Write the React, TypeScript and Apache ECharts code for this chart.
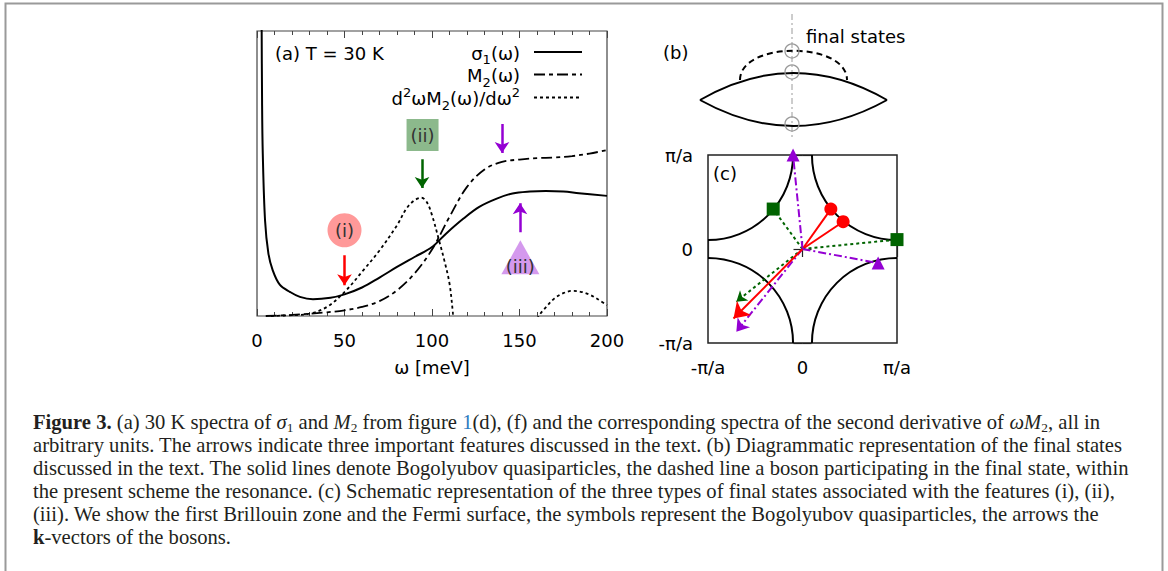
import React, { useEffect, useRef } from "react";
import * as echarts from "echarts";

// ---------- Panel (a): 30 K spectra, arbitrary units, ω in meV ----------
const omegaRange = [0, 200];
const omegaMajorStep = 50;

const sigma1Spectrum: [number, number][] = [
  [2.6, 1.1], [2.9, 0.75], [3.3, 0.57], [4.6, 0.335], [6.5, 0.22], [9, 0.16],
  [13, 0.11], [19, 0.084], [24.5, 0.067], [32, 0.059], [42, 0.064], [50, 0.076],
  [60, 0.1], [70, 0.135], [80, 0.172], [90, 0.207], [100, 0.242], [108, 0.289],
  [118, 0.342], [127, 0.383], [137, 0.412], [146, 0.43], [156, 0.437], [165, 0.439],
  [175, 0.437], [184, 0.431], [200, 0.4215],
];

const m2Spectrum: [number, number][] = [
  [5, 0.0], [20, 0.004], [40, 0.013], [50, 0.02], [60, 0.032], [70, 0.052],
  [80, 0.09], [90, 0.149], [100, 0.233], [110, 0.348], [120, 0.453], [130, 0.514],
  [140, 0.541], [150, 0.549], [160, 0.554], [170, 0.556], [180, 0.561], [190, 0.57],
  [200, 0.582],
];

// second derivative of ωM2: first lobe, then the tail after it re-enters the window
const d2wm2Lobe: [number, number][] = [
  [8, 0.0], [20, 0.003], [30, 0.008], [40, 0.032], [50, 0.084], [60.7, 0.16],
  [70, 0.23], [80, 0.318], [85.4, 0.377], [90, 0.406], [94, 0.415], [97, 0.4],
  [100, 0.354], [104, 0.266], [107, 0.196], [110, 0.114], [112, 0.008], [113, -0.05],
];
const d2wm2Tail: [number, number][] = [
  [159, -0.03], [161, 0.0], [165, 0.03], [170, 0.062], [175, 0.08], [180, 0.088],
  [185, 0.085], [190, 0.075], [195, 0.058], [200, 0.038],
];

const legendNames = ["σ{sub|1}(ω)", "M{sub|2}(ω)", "d{sup|2}ωM{sub|2}(ω)/dω{sup|2}"];
const panelATitle = "(a) T = 30 K";
const omegaAxisName = "ω [meV]";

// features (i), (ii), (iii): badge position and arrows
const featureBadges = [
  { label: "(i)", at: [50, 0.301] },
  { label: "(ii)", at: [94.6, 0.635] },
  { label: "(iii)", at: [150.5, 0.206] },
];
const featureArrowsI = [{ from: [50, 0.213], to: [50, 0.108] }];
const featureArrowsII = [{ from: [94.3, 0.55], to: [94.3, 0.449] }];
const featureArrowsIII = [
  { from: [140, 0.674], to: [140, 0.572] },
  { from: [150.3, 0.294], to: [150.3, 0.396] },
];

// ---------- Panel (c): first Brillouin zone, k in units of π/a ----------
const kTicks = [-1, 0, 1];
const kTickLabels = ["-π/a", "0", "π/a"];
const fermiArcCenters = [[1, 1], [-1, 1], [-1, -1], [1, -1]];
const fermiArcRadius = 0.9;
const finalStatesI = [[0.3, 0.425], [0.43, 0.29]];
const finalStatesII = [[-0.31, 0.425], [1.0, 0.1]];
const finalStatesIII = [[-0.1, 1.0], [0.8, -0.15]];
const bosonI = [-0.73, -0.74];
const bosonII = [-0.7, -0.56];
const bosonIII = [-0.7, -0.88];

// ---------- Caption ----------
const captionLines = [
  "{b|Figure 3.} (a) 30 K spectra of {i|σ}{sub|1} and {i|M}{sub|2} from figure {link|1}(d), (f) and the corresponding spectra of the second derivative of {i|ωM}{sub|2}, all in",
  "arbitrary units. The arrows indicate three important features discussed in the text. (b) Diagrammatic representation of the final states",
  "discussed in the text. The solid lines denote Bogolyubov quasiparticles, the dashed line a boson participating in the final state, within",
  "the present scheme the resonance. (c) Schematic representation of the three types of final states associated with the features (i), (ii),",
  "(iii). We show the first Brillouin zone and the Fermi surface, the symbols represent the Bogolyubov quasiparticles, the arrows the",
  "{b|k}-vectors of the bosons.",
];

const RED = "#ff0000";
const GREEN = "#006400";
const PURPLE = "#9400d3";
const SANS = "DejaVu Sans";
const SERIF = "Liberation Serif";

function captionScale(): number {
  const ctx = document.createElement("canvas").getContext("2d");
  if (!ctx) return 0.95;
  ctx.font = `20px "${SERIF}"`;
  const w = ctx.measureText(captionLines[1]).width;
  return w > 0 ? 1090 / w : 0.95;
}

function buildOption(): echarts.EChartsOption {
  const badgeStyles = [
    { symbol: "circle", size: 34, color: "rgba(255,0,0,0.4)", offset: [0, 0] },
    { symbol: "rect", size: 32, color: "rgba(0,100,0,0.45)", offset: [0, 0] },
    { symbol: "triangle", size: [38, 34], color: "rgba(148,0,211,0.4)", offset: [0, 9] },
  ];

  const axisTextA = { fontFamily: SANS, fontSize: 18, color: "#000" };
  const scale = captionScale();
  const captionRich = {
    b: { fontFamily: SERIF, fontSize: 20, fontWeight: "bold", fill: "#231f20", lineHeight: 23 },
    i: { fontFamily: SERIF, fontSize: 20, fontStyle: "italic", fill: "#231f20", lineHeight: 23 },
    sub: { fontFamily: SERIF, fontSize: 13, fill: "#231f20", verticalAlign: "bottom" },
    link: { fontFamily: SERIF, fontSize: 20, fill: "#2b7bbf", lineHeight: 23 },
  };
  const legendRich = {
    sub: { fontFamily: SANS, fontSize: 13, fill: "#000", verticalAlign: "bottom" },
    sup: { fontFamily: SANS, fontSize: 13, fill: "#000", verticalAlign: "top" },
  };

  const arrowLines = (
    items: { from: number[]; to: number[] }[],
    color: string,
    width: number,
    head: number,
    xAxisIndex: number,
    yAxisIndex: number,
    dash: any = "solid"
  ) => ({
    type: "lines",
    coordinateSystem: "cartesian2d",
    xAxisIndex,
    yAxisIndex,
    data: items.map((a) => ({ coords: [a.from, a.to] })),
    symbol: ["none", "arrow"],
    symbolSize: [0, head],
    lineStyle: { color, width, type: dash, opacity: 1 },
    z: 4,
  });

  const connectors = (pts: number[][], color: string, dash: any) => ({
    type: "lines",
    coordinateSystem: "cartesian2d",
    xAxisIndex: 2,
    yAxisIndex: 1,
    data: pts.map((p) => ({ coords: [[0, 0], p] })),
    symbol: "none",
    lineStyle: { color, width: 2, type: dash, opacity: 1 },
    z: 3,
  });

  const markers = (pts: number[][], symbol: string, size: number, color: string) => ({
    type: "scatter",
    xAxisIndex: 2,
    yAxisIndex: 1,
    data: pts,
    symbol,
    symbolSize: size,
    itemStyle: { color, opacity: 1 },
    clip: false,
    z: 6,
  });

  const legendY = [52, 74.5, 97.5];
  const legendDash: any[] = [null, [11, 4, 4, 4], [3, 3]];

  return {
    animation: false,
    backgroundColor: "#ffffff",
    grid: [
      { left: 257, top: 31, width: 350, height: 285, show: true, borderColor: "#444", borderWidth: 1.2, backgroundColor: "transparent" },
      { left: 708, top: 155, width: 189, height: 188, show: true, borderColor: "#222", borderWidth: 1.5, backgroundColor: "transparent" },
    ],
    xAxis: [
      {
        gridIndex: 0, type: "value", min: omegaRange[0], max: omegaRange[1], interval: omegaMajorStep,
        axisLine: { show: false },
        axisTick: { show: true, inside: true, length: 7, lineStyle: { color: "#444" } },
        minorTick: { show: true, splitNumber: 5, length: 4, lineStyle: { color: "#444" } },
        splitLine: { show: false },
        axisLabel: { ...axisTextA, margin: 15 },
        name: omegaAxisName, nameLocation: "middle", nameGap: 42,
        nameTextStyle: { ...axisTextA },
      },
      {
        gridIndex: 0, type: "value", position: "top", min: omegaRange[0], max: omegaRange[1], interval: omegaMajorStep,
        axisLine: { show: false },
        axisTick: { show: true, inside: true, length: 7, lineStyle: { color: "#444" } },
        minorTick: { show: true, splitNumber: 5, length: 4, lineStyle: { color: "#444" } },
        splitLine: { show: false },
        axisLabel: { show: false },
      },
      {
        gridIndex: 1, type: "value", min: -1, max: 1, interval: 1,
        axisLine: { show: false },
        axisTick: { show: true, inside: true, length: 8, lineStyle: { color: "#222", width: 1.2 } },
        splitLine: { show: false },
        axisLabel: {
          ...axisTextA, margin: 15,
          formatter: (v: number) => kTickLabels[kTicks.indexOf(Math.round(v))] ?? "",
        },
      },
      {
        gridIndex: 1, type: "value", position: "top", min: -1, max: 1, interval: 1,
        axisLine: { show: false },
        axisTick: { show: true, inside: true, length: 8, lineStyle: { color: "#222", width: 1.2 } },
        splitLine: { show: false },
        axisLabel: { show: false },
      },
    ],
    yAxis: [
      {
        gridIndex: 0, type: "value", min: 0, max: 1,
        axisLine: { show: false }, axisTick: { show: false }, axisLabel: { show: false }, splitLine: { show: false },
      },
      {
        gridIndex: 1, type: "value", min: -1, max: 1, interval: 1,
        axisLine: { show: false },
        axisTick: { show: true, inside: true, length: 9, lineStyle: { color: "#222", width: 1.2 } },
        splitLine: { show: false },
        axisLabel: {
          ...axisTextA, margin: 15,
          formatter: (v: number) => kTickLabels[kTicks.indexOf(Math.round(v))] ?? "",
        },
      },
      {
        gridIndex: 1, type: "value", position: "right", min: -1, max: 1, interval: 1,
        axisLine: { show: false },
        axisTick: { show: true, inside: true, length: 9, lineStyle: { color: "#222", width: 1.2 } },
        splitLine: { show: false },
        axisLabel: { show: false },
      },
    ],
    series: [
      // panel (a) spectra
      {
        type: "line", xAxisIndex: 0, yAxisIndex: 0, data: sigma1Spectrum, smooth: 0.35, showSymbol: false,
        lineStyle: { color: "#000", width: 2 }, z: 3,
      },
      {
        type: "line", xAxisIndex: 0, yAxisIndex: 0, data: m2Spectrum, smooth: 0.35, showSymbol: false,
        lineStyle: { color: "#000", width: 1.8, type: [11, 4, 4, 4] }, z: 3,
      },
      {
        type: "line", xAxisIndex: 0, yAxisIndex: 0, data: d2wm2Lobe, smooth: 0.35, showSymbol: false,
        lineStyle: { color: "#000", width: 1.8, type: [3, 3] }, z: 3,
      },
      {
        type: "line", xAxisIndex: 0, yAxisIndex: 0, data: d2wm2Tail, smooth: 0.35, showSymbol: false,
        lineStyle: { color: "#000", width: 1.8, type: [3, 3] }, z: 3,
      },
      // feature badges
      {
        type: "scatter", xAxisIndex: 0, yAxisIndex: 0, z: 5,
        data: featureBadges.map((b, k) => ({
          value: b.at,
          name: b.label,
          symbol: badgeStyles[k].symbol,
          symbolSize: badgeStyles[k].size,
          itemStyle: { color: badgeStyles[k].color, opacity: 1 },
          label: {
            show: true, position: "inside", formatter: b.label, offset: badgeStyles[k].offset,
            fontFamily: SANS, fontSize: 18, color: "#333",
          },
        })),
      },
      arrowLines(featureArrowsI, RED, 2.5, 11, 0, 0),
      arrowLines(featureArrowsII, GREEN, 2.5, 11, 0, 0),
      arrowLines(featureArrowsIII, PURPLE, 2.5, 11, 0, 0),
      // panel (c) Fermi surface
      {
        type: "custom", coordinateSystem: "cartesian2d", xAxisIndex: 2, yAxisIndex: 1,
        data: fermiArcCenters, z: 2,
        renderItem: (_params: any, api: any) => {
          const cx = api.value(0);
          const cy = api.value(1);
          const c = api.coord([cx, cy]);
          const r = api.size([fermiArcRadius, fermiArcRadius]);
          const mid = Math.atan2(cy, -cx);
          return {
            type: "arc",
            shape: { cx: c[0], cy: c[1], r: r[0], startAngle: mid - Math.PI / 4, endAngle: mid + Math.PI / 4, clockwise: true },
            style: { stroke: "#000", lineWidth: 2, fill: "none" },
          };
        },
      },
      connectors(finalStatesI, RED, "solid"),
      connectors(finalStatesII, GREEN, [3, 3]),
      connectors(finalStatesIII, PURPLE, [8, 3, 2, 3]),
      arrowLines([{ from: [0, 0], to: bosonII }], GREEN, 2, 10, 2, 1, [3, 3]),
      arrowLines([{ from: [0, 0], to: bosonIII }], PURPLE, 2, 12, 2, 1, [8, 3, 2, 3]),
      arrowLines([{ from: [0, 0], to: bosonI }], RED, 2, 15, 2, 1),
      markers(finalStatesI, "circle", 13, RED),
      markers(finalStatesII, "rect", 13, GREEN),
      markers(finalStatesIII, "triangle", 13, PURPLE),
    ] as any,
    graphic: {
      elements: [
        // figure frame
        { type: "rect", shape: { x: 5.5, y: 3.5, width: 1157, height: 620 }, style: { fill: "none", stroke: "#9a9a9a", lineWidth: 2 }, z: 0 },
        // panel (a) title and key
        { type: "text", x: 275, y: 53, style: { text: panelATitle, font: `18px "${SANS}"`, fill: "#000", align: "left", verticalAlign: "middle" }, z: 10 },
        ...legendNames.map((n, k) => ({
          type: "text", x: 520, y: legendY[k] + 1,
          style: {
            text: n, font: `18px "${SANS}"`, fill: "#000", align: "right", verticalAlign: "middle",
            lineHeight: 26, rich: legendRich,
          },
          z: 10,
        })),
        ...legendNames.map((_n, k) => ({
          type: "line", shape: { x1: 534, y1: legendY[k], x2: 582, y2: legendY[k] },
          style: { stroke: "#000", lineWidth: k === 0 ? 2 : 1.8, lineDash: legendDash[k] ?? undefined }, z: 10,
        })),
        // panel (b) diagram
        { type: "text", x: 663, y: 52, style: { text: "(b)", font: `18px "${SANS}"`, fill: "#000", align: "left", verticalAlign: "middle" }, z: 10 },
        { type: "text", x: 806, y: 36, style: { text: "final states", font: `18px "${SANS}"`, fill: "#000", align: "left", verticalAlign: "middle" }, z: 10 },
        { type: "line", shape: { x1: 792, y1: 14, x2: 792, y2: 138 }, style: { stroke: "#9a9a9a", lineWidth: 1, lineDash: [6, 3, 2, 3] }, z: 10 },
        { type: "bezierCurve", shape: { x1: 700, y1: 100, x2: 887, y2: 100, cpx1: 793.5, cpy1: 46 }, style: { stroke: "#000", lineWidth: 2, fill: "none" }, z: 10 },
        { type: "bezierCurve", shape: { x1: 700, y1: 100, x2: 887, y2: 100, cpx1: 793.5, cpy1: 152 }, style: { stroke: "#000", lineWidth: 2, fill: "none" }, z: 10 },
        { type: "bezierCurve", shape: { x1: 740, y1: 80, x2: 847, y2: 80, cpx1: 740, cpy1: 41, cpx2: 847, cpy2: 41 }, style: { stroke: "#000", lineWidth: 2, fill: "none", lineDash: [6, 4] }, z: 10 },
        ...[51, 72, 124].map((cy) => ({
          type: "circle", shape: { cx: 792, cy, r: 7 }, style: { stroke: "#9a9a9a", lineWidth: 1.3, fill: "none" }, z: 11,
        })),
        // panel (c) tag
        { type: "text", x: 713, y: 173, style: { text: "(c)", font: `18px "${SANS}"`, fill: "#000", align: "left", verticalAlign: "middle" }, z: 10 },
        // caption
        ...captionLines.map((line, k) => ({
          type: "text", x: 33, y: 422.5 + 23 * k, scaleX: scale,
          style: {
            text: line, font: `20px "${SERIF}"`, fill: "#231f20", lineHeight: 23,
            align: "left", verticalAlign: "middle", rich: captionRich,
          },
          z: 10,
        })),
      ],
    } as any,
  };
}

export default function App() {
  const ref = useRef<HTMLDivElement>(null);
  useEffect(() => {
    if (!ref.current) return;
    const chart = echarts.init(ref.current, null, { renderer: "svg" });
    chart.setOption(buildOption());
    return () => chart.dispose();
  }, []);
  return (
    <div
      ref={ref}
      style={{ position: "absolute", left: 0, top: 0, width: 1168, height: 571, background: "#fff" }}
    />
  );
}
